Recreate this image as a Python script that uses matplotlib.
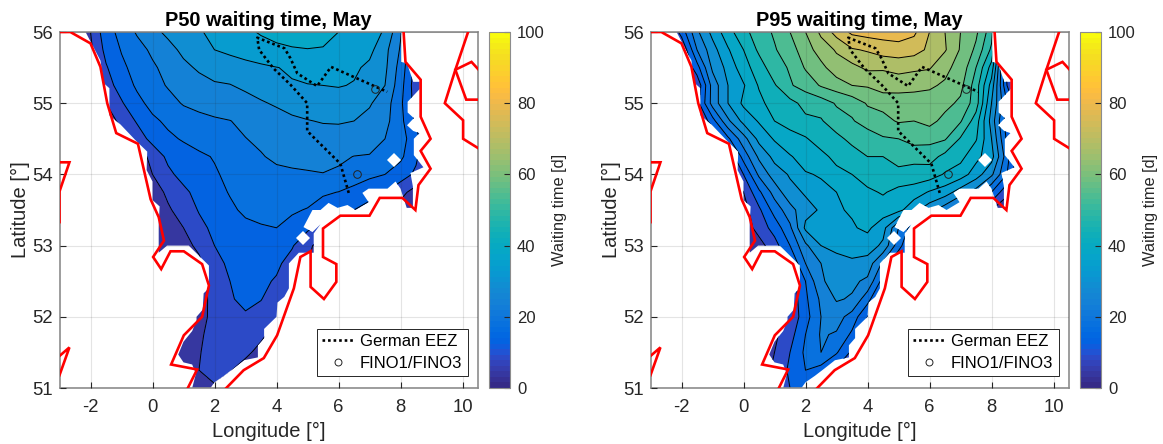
import numpy as np
import matplotlib
matplotlib.use('Agg')
import matplotlib.pyplot as plt
from matplotlib.colors import ListedColormap, Normalize
from matplotlib.cm import ScalarMappable
from matplotlib.lines import Line2D
from matplotlib.path import Path

plt.rcParams['font.family'] = ['Liberation Sans', 'DejaVu Sans']
plt.rcParams['axes.unicode_minus'] = False

parula = ListedColormap([
    [0.2081, 0.1663, 0.5292], [0.2116, 0.1898, 0.5777], [0.2123, 0.2138, 0.6270], [0.2081, 0.2386, 0.6771],
    [0.1959, 0.2645, 0.7279], [0.1707, 0.2919, 0.7792], [0.1253, 0.3242, 0.8303], [0.0591, 0.3598, 0.8683],
    [0.0117, 0.3875, 0.8820], [0.0060, 0.4086, 0.8828], [0.0165, 0.4266, 0.8786], [0.0329, 0.4430, 0.8720],
    [0.0498, 0.4586, 0.8641], [0.0629, 0.4737, 0.8554], [0.0723, 0.4887, 0.8467], [0.0779, 0.5040, 0.8384],
    [0.0793, 0.5200, 0.8312], [0.0749, 0.5375, 0.8263], [0.0641, 0.5570, 0.8240], [0.0488, 0.5772, 0.8228],
    [0.0343, 0.5966, 0.8199], [0.0265, 0.6137, 0.8135], [0.0239, 0.6287, 0.8038], [0.0231, 0.6418, 0.7913],
    [0.0228, 0.6535, 0.7768], [0.0267, 0.6642, 0.7607], [0.0384, 0.6743, 0.7436], [0.0590, 0.6838, 0.7254],
    [0.0843, 0.6928, 0.7062], [0.1133, 0.7015, 0.6859], [0.1453, 0.7098, 0.6646], [0.1801, 0.7177, 0.6424],
    [0.2178, 0.7250, 0.6193], [0.2586, 0.7317, 0.5954], [0.3022, 0.7376, 0.5712], [0.3482, 0.7424, 0.5473],
    [0.3953, 0.7459, 0.5244], [0.4420, 0.7481, 0.5033], [0.4871, 0.7491, 0.4840], [0.5300, 0.7491, 0.4661],
    [0.5709, 0.7485, 0.4494], [0.6099, 0.7473, 0.4337], [0.6473, 0.7456, 0.4188], [0.6834, 0.7435, 0.4044],
    [0.7184, 0.7411, 0.3905], [0.7525, 0.7384, 0.3768], [0.7858, 0.7356, 0.3633], [0.8185, 0.7327, 0.3498],
    [0.8507, 0.7299, 0.3360], [0.8824, 0.7274, 0.3217], [0.9139, 0.7258, 0.3063], [0.9450, 0.7261, 0.2886],
    [0.9739, 0.7314, 0.2666], [0.9938, 0.7455, 0.2403], [0.9990, 0.7653, 0.2164], [0.9955, 0.7861, 0.1967],
    [0.9880, 0.8066, 0.1794], [0.9789, 0.8271, 0.1633], [0.9697, 0.8481, 0.1475], [0.9626, 0.8705, 0.1309],
    [0.9589, 0.8949, 0.1132], [0.9598, 0.9218, 0.0948], [0.9661, 0.9514, 0.0755], [0.9763, 0.9831, 0.0538]])

# grid of the waiting time fields, days
lons = [-2.5, -2, -1.5, -1, -.5, 0, .5, 1, 1.5, 2, 2.5, 3, 3.5, 4, 4.5, 5, 5.5, 6, 6.5, 7, 7.5, 8, 8.5, 9]
lats = [56, 55.75, 55.5, 55.25, 55, 54.75, 54.5, 54.25, 54, 53.75, 53.5, 53.25, 53, 52.75, 52.5, 52.25, 52, 51.75, 51.5, 51.25, 51]

p50 = [
    [0, 5, 13, 16.5, 20.6, 23.7, 26, 28, 29.6, 31, 32.5, 34, 35.5, 37, 38, 38, 37, 35, 33.5, 32, 29.5, 20.5, 10, 5],
    [0, 4, 11.5, 15.3, 18, 21, 23.5, 26, 28, 30, 31, 32, 33, 33.7, 34.4, 34.8, 34.6, 34, 33, 31.3, 26.5, 19.5, 8, 3],
    [0, 3, 9.5, 14, 16.7, 19.2, 21.7, 24, 25.6, 26.8, 27.7, 28.5, 29.2, 29.9, 30.5, 31, 31, 31, 30.8, 29, 26, 18, 8, 3],
    [0, 2, 8, 12, 15.8, 18.2, 20.4, 22, 23.5, 24.5, 24.8, 26, 27.2, 28.4, 29.7, 29.9, 30, 30.3, 29.7, 28, 25, 17, 7, 2],
    [0, 1, 5, 9.5, 13.5, 16.6, 18.3, 20.4, 21.3, 21.7, 22.5, 23.2, 24.5, 25.6, 26.6, 27.3, 27.6, 27.6, 27, 25.5, 22.5, 16, 8, 2],
    [0, 0, 2, 6.5, 10.5, 14, 16, 17.5, 18.7, 19.5, 19.9, 21, 22, 23, 24.2, 24.8, 25.3, 25.4, 25, 23.6, 21.5, 16.5, 9, 2],
    [0, 0, 0, 3, 7.5, 11.5, 14, 15.5, 16.7, 17.5, 18.7, 19.9, 20.8, 21.7, 22.3, 22.8, 23.1, 23.2, 23, 22, 20, 17, 12, 3],
    [0, 0, 0, 0, 1.5, 7, 11, 12.8, 14.2, 15.3, 16.8, 18.2, 19.7, 20.8, 20.9, 21, 21, 20.8, 19.9, 19.7, 18.5, 16, 11, 3],
    [0, 0, 0, 0, 1, 5, 9, 11.5, 13, 14.5, 16, 17, 18, 19, 19.5, 19.7, 19.9, 19.3, 17.5, 16, 15, 12.5, 9, 3],
    [0, 0, 0, 0, 0, 2, 6.2, 9, 11.5, 13.5, 15.3, 16.5, 17.3, 17.8, 17.5, 16.5, 15.6, 14.9, 13.5, 12, 10, 6.5, 3, 1],
    [0, 0, 0, 0, 0, 1.5, 4.2, 7.5, 10.3, 12.3, 14.2, 15.8, 16.5, 16.2, 15.4, 14.8, 13, 11.5, 10, 8, 6, 3, 2, 1],
    [0, 0, 0, 0, 0, 1, 2.5, 5, 8.8, 11, 12.8, 14, 14.6, 15, 14, 11, 8, 5, 3, 2, 1, 1, 1, 0],
    [0, 0, 0, 0, 0, 0, 1.5, 3.5, 6, 10, 11.5, 12.5, 13, 12.5, 10.5, 6, 3, 1, 0, 0, 0, 0, 0, 0],
    [0, 0, 0, 0, 0, 0, 1, 2, 4, 8.3, 11, 12, 12, 11, 8, 5, 2, 1, 0, 0, 0, 0, 0, 0],
    [0, 0, 0, 0, 0, 0, 1, 2, 3.5, 6.5, 10, 11.2, 11, 9.5, 6, 3, 1, 0, 0, 0, 0, 0, 0, 0],
    [0, 0, 0, 0, 0, 0, .5, 1.5, 3.5, 6.2, 9.6, 11, 10.2, 7.2, 4.4, 1, 0, 0, 0, 0, 0, 0, 0, 0],
    [0, 0, 0, 0, 0, 0, .5, 1, 3.8, 6, 9.5, 9.5, 8, 5.5, 2, 1, 0, 0, 0, 0, 0, 0, 0, 0],
    [0, 0, 0, 0, 0, 0, .5, 2, 4.2, 6.8, 9.3, 8.2, 6, 3, 1, 0, 0, 0, 0, 0, 0, 0, 0, 0],
    [0, 0, 0, 0, 0, 0, .5, 2, 4.7, 7, 7.6, 6, 3.5, 1.5, 1, 0, 0, 0, 0, 0, 0, 0, 0, 0],
    [0, 0, 0, 0, 0, 0, .5, 2, 5, 6.5, 5.3, 3, 1.5, 1, 0, 0, 0, 0, 0, 0, 0, 0, 0, 0],
    [0, 0, 0, 0, 0, 0, .5, 2, 4, 4.5, 3, 2, 1, .5, 0, 0, 0, 0, 0, 0, 0, 0, 0, 0],
]

p95 = [
    [2, 12, 24, 31.5, 38, 43.5, 47.5, 50.7, 55, 60, 66, 72, 76, 77, 77, 78, 76, 70, 65, 60, 56, 47, 14, 3],
    [1, 5, 20, 28, 34.5, 40, 46, 49.5, 53, 57.5, 62.5, 65.5, 69.5, 70.5, 72.5, 72.5, 72, 69, 65.5, 59.5, 54, 44, 10, 2],
    [0, 3, 13, 26, 31.5, 38, 42.5, 48, 50.5, 55.5, 58.5, 63, 63.5, 66, 65.5, 67, 66, 65.5, 61, 58.5, 50, 38, 8, 2],
    [0, 2, 6, 22, 30, 34.5, 40.5, 44.5, 49.5, 52, 55.5, 57.5, 60, 60.5, 62.5, 61.5, 61.5, 60.5, 59.5, 56.5, 47.5, 33, 10, 2],
    [0, 1, 8, 22, 30, 36, 38.5, 42.5, 43.5, 46.5, 47.5, 50.5, 52, 55.5, 56.5, 58, 57.5, 58.5, 56.5, 54, 47.5, 30, 15, 3],
    [0, 0, 3, 13, 24, 31.5, 35.5, 40, 41, 44, 44.5, 48, 49.5, 52.5, 53.5, 55.5, 55, 56.5, 53.5, 50.5, 42.5, 28, 12, 3],
    [0, 0, 0, 4, 14, 23, 31.5, 35.5, 39, 39.5, 42.5, 43.5, 46.5, 47, 49.5, 50, 52, 51.5, 50.5, 44.5, 40.5, 30, 14, 3],
    [0, 0, 0, 0, 5, 17, 26, 31.5, 34.5, 37.5, 38.5, 41.5, 42.5, 45, 45, 47, 46.5, 47, 43.5, 41.5, 36.5, 32, 17, 3],
    [0, 0, 0, 0, 2, 10, 21, 27.5, 30.5, 34.5, 35.5, 38.5, 40, 42.5, 42, 43.5, 43, 42.5, 39.5, 37.5, 32.5, 26, 15, 3],
    [0, 0, 0, 0, 0, 5, 14, 22, 28.5, 30.5, 33.5, 35, 38.5, 39, 40.5, 38.5, 37.5, 34.5, 32.5, 27.5, 23, 15, 6, 2],
    [0, 0, 0, 0, 0, 3, 9, 17, 23, 28.5, 30.5, 34.5, 35.5, 38, 37.5, 36.5, 31.5, 27, 22, 16, 10, 5, 2, 1],
    [0, 0, 0, 0, 0, 2, 7, 12, 19, 31, 33, 34, 34.5, 36, 32, 20, 12, 8, 4, 2, 1, 1, 0, 0],
    [0, 0, 0, 0, 0, 0, 3, 8, 15, 24, 30, 31.5, 32.5, 32.5, 29, 17, 8, 2, 0, 0, 0, 0, 0, 0],
    [0, 0, 0, 0, 0, 0, 1, 4, 10, 20, 25, 28, 29, 28, 19, 10, 3, 1, 0, 0, 0, 0, 0, 0],
    [0, 0, 0, 0, 0, 0, 1, 3, 7, 15, 24.5, 26.5, 26, 24, 13, 6, 1, 0, 0, 0, 0, 0, 0, 0],
    [0, 0, 0, 0, 0, 0, 1, 2, 6, 14, 21, 25.5, 24.5, 17, 7, 2, 0, 0, 0, 0, 0, 0, 0, 0],
    [0, 0, 0, 0, 0, 0, 1, 2, 6, 13, 20, 22, 18, 10, 4, 1, 0, 0, 0, 0, 0, 0, 0, 0],
    [0, 0, 0, 0, 0, 0, 1, 4, 8, 15, 20.5, 19.5, 14, 6, 2, 0, 0, 0, 0, 0, 0, 0, 0, 0],
    [0, 0, 0, 0, 0, 0, 2, 5, 10, 16, 20, 15.5, 9, 3, 1, 0, 0, 0, 0, 0, 0, 0, 0, 0],
    [0, 0, 0, 0, 0, 0, 2, 6, 11, 15, 13, 9, 4, 1, 0, 0, 0, 0, 0, 0, 0, 0, 0, 0],
    [0, 0, 0, 0, 0, 0, 2, 6, 10, 11, 8, 4, 1, 0, 0, 0, 0, 0, 0, 0, 0, 0, 0, 0],
]

levels = list(range(0, 85, 5))

# outline of the area with model data
sea_lon = [-2.16, -1.68, -1.57, -1.39, -1.39, -1.03, -.55, -.17, -.19, 0, 0, .23, .2, .2, .47, 1.17, 1.82, 1.82, 1.65,
           1.62, 1.42, 1.42, 1.28, 1.0, .83, 1.0, 1.28, 1.4, 1.28, 1.87, 2, 2.3, 2.6, 2.95, 3.4, 3.4, 3.6, 3.6, 4, 4.03,
           4.25, 4.4, 4.4, 4.72, 5.2, 5.2, 5.42, 5.16, 4.87, 5.16, 5.42, 5.68, 5.97, 6.29, 6.55, 6.97, 6.77, 6.97, 7.58,
           7.84, 8.0, 8.2, 8.4, 8.4, 8.32, 8.74, 8.43, 8.43, 8.61, 8.41, 8.21, 8.43, 8.23, 8.23, 8.62, 8.62, 8.41, 8.21,
           8.02, 8.02]
sea_lat = [56, 55.6, 55.28, 55.21, 54.83, 54.7, 54.48, 54.32, 54.06, 53.9, 53.64, 53.55, 53.3, 52.9, 53, 53, 52.72, 52.4,
           52.33, 52.1, 52, 51.95, 51.8, 51.65, 51.47, 51.36, 51.33, 51.2, 51, 51, 51.08, 51.17, 51.27, 51.39, 51.43, 51.6,
           51.7, 51.83, 52, 52.2, 52.28, 52.4, 52.75, 52.9, 52.9, 53.17, 53.3, 53.19, 53.26, 53.5, 53.5, 53.6, 53.53, 53.57,
           53.5, 53.61, 53.74, 53.8, 53.8, 53.9, 53.8, 53.53, 53.53, 53.83, 54.02, 54.1, 54.27, 54.5, 54.58, 54.61, 54.69,
           54.79, 54.87, 55.02, 55.2, 55.3, 55.3, 55.56, 55.58, 56]
hole_lon = [7.8, 4.84]
hole_lat = [54.2, 53.1]

# coastline pieces
coast = [
    ([-3, -2.65, -2, -1.68, -1.46, -1.17, -.47, -.06, .2, .37, .02, .28, .58, 1.01, 1.6, 1.82, 1.6, 1.01, .6, 1.44, 1.14],
     [56, 56, 55.84, 55.51, 55, 54.58, 54.43, 53.65, 53.4, 53.07, 52.84, 52.67, 52.92, 52.92, 52.74, 52.44, 52, 51.74, 51.33, 51.26, 51]),
    ([-3, -3, -2.68, -3], [53.33, 53.76, 54.17, 54.17]),
    ([-3, -2.68, -3], [51.18, 51.57, 51.45]),
    ([2.38, 2.94, 3.59, 4.02, 4.56, 4.77, 5.1, 5.1, 5.53, 5.93, 5.93, 5.5, 5.5, 6.06, 7, 7.33, 8.06, 8.48, 8.58, 8.97, 8.65, 8.97, 8.65, 8.65, 8.16, 8.1],
     [51, 51.25, 51.42, 51.74, 52.4, 52.84, 52.92, 52.42, 52.25, 52.49, 52.74, 52.84, 53.24, 53.42, 53.42, 53.67, 53.67, 53.5, 53.85, 54.08, 54.33, 54.5, 54.81, 55.33, 55.58, 56]),
    ([10.18, 9.77, 9.43, 10.02, 10.02, 10.5], [56, 55.47, 55, 54.76, 54.5, 54.37]),
    ([10.5, 10.29, 9.77, 10.12, 10.5], [55.48, 55.58, 55.47, 55.05, 55.05]),
]

eez_lon = [6.33, 6.06, 4.99, 4.99, 4.45, 3.9, 3.44, 3.38, 4.26, 4.45, 4.67, 5.31, 5.76, 7.57]
eez_lat = [53.74, 54.15, 54.61, 55, 55.26, 55.49, 55.75, 55.92, 55.77, 55.63, 55.42, 55.24, 55.51, 55.16]
fino_lon = [7.19, 6.61]
fino_lat = [55.2, 54.0]

titles = ['P50 waiting time, May', 'P95 waiting time, May']
xticks = [-2, 0, 2, 4, 6, 8, 10]
yticks = [51, 52, 53, 54, 55, 56]
cbar_ticks = [0, 20, 40, 60, 80, 100]

W, H = 1163, 444
fig = plt.figure(figsize=(W / 100, H / 100), dpi=100)
grey = '#262626'
norm = Normalize(0, 100)
sea_path = Path(np.column_stack([sea_lon + sea_lon[:1], sea_lat + sea_lat[:1]]))
# band colours sit a little above the middle of each band
band_colors = [parula(norm(lv + 3.5)) for lv in levels[:-1]]


def draw_panel(left, cbar_left, field, title):
    ax = fig.add_axes([left / W, (H - 388) / H, 418.5 / W, 356 / H])
    cf = ax.contourf(lons, lats, np.array(field), levels=levels, colors=band_colors, zorder=1)
    cl = ax.contour(lons, lats, np.array(field), levels=levels[1:], colors='k', linewidths=0.7, zorder=1.2)
    cf.set_clip_path(sea_path, transform=ax.transData)
    cl.set_clip_path(sea_path, transform=ax.transData)
    ax.plot(hole_lon, hole_lat, ls='none', marker='D', ms=7, color='w', mew=0, zorder=1.5)
    for clon, clat in coast:
        ax.plot(clon, clat, color='#ff0000', lw=1.9, zorder=3, solid_joinstyle='miter', clip_on=True)
    ax.plot(eez_lon, eez_lat, color='k', lw=1.9, ls=(0, (1, 1.1)), zorder=4)
    ax.plot(fino_lon, fino_lat, ls='none', marker='o', ms=5.5, mfc='none', mec='#222222', mew=0.7, zorder=4)

    ax.set_xlim(-3, 10.5)
    ax.set_ylim(51, 56)
    ax.set_xticks(xticks)
    ax.set_yticks(yticks)
    ax.grid(True, color='#262626', alpha=0.12, lw=0.8)
    ax.set_axisbelow(False)
    ax.tick_params(direction='in', length=4, width=0.8, colors=grey, labelsize=13.3)
    ax.tick_params(axis='x', pad=8)
    ax.tick_params(axis='y', pad=5)
    for s in ax.spines.values():
        s.set_color('#8c8c8c')
        s.set_linewidth(1.2)
    ax.set_xlabel('Longitude [°]', fontsize=14.5, color=grey, labelpad=4)
    ax.set_ylabel('Latitude [°]', fontsize=14.5, color=grey, labelpad=1)
    ax.set_title(title, fontsize=14.4, fontweight='bold', color='k', pad=4)

    handles = [Line2D([], [], color='k', lw=1.9, ls=(0, (1, 1.1))),
               Line2D([], [], ls='none', marker='o', ms=5, mfc='none', mec='#222222', mew=0.7)]
    leg = ax.legend(handles, ['German EEZ', 'FINO1/FINO3'], loc='lower right', bbox_to_anchor=(0.975, 0.033),
                    fontsize=12, fancybox=False, framealpha=1, edgecolor='#262626', labelspacing=0.42,
                    borderpad=0.32, handlelength=1.9, handletextpad=0.35, borderaxespad=0)
    leg.get_frame().set_linewidth(0.7)

    cax = fig.add_axes([cbar_left / W, (H - 388) / H, 21.5 / W, 356 / H])
    cb = fig.colorbar(ScalarMappable(norm=norm, cmap=parula), cax=cax, ticks=cbar_ticks)
    cb.outline.set_edgecolor('#8c8c8c')
    cb.outline.set_linewidth(0.8)
    cax.tick_params(direction='in', length=4, width=0.8, colors=grey, labelsize=12, pad=5)
    cb.set_label('Waiting time [d]', fontsize=11.8, color=grey, labelpad=5)


draw_panel(59.5, 488.5, p50, titles[0])
draw_panel(650.5, 1079.5, p95, titles[1])

fig.savefig('out.png', dpi=100)
